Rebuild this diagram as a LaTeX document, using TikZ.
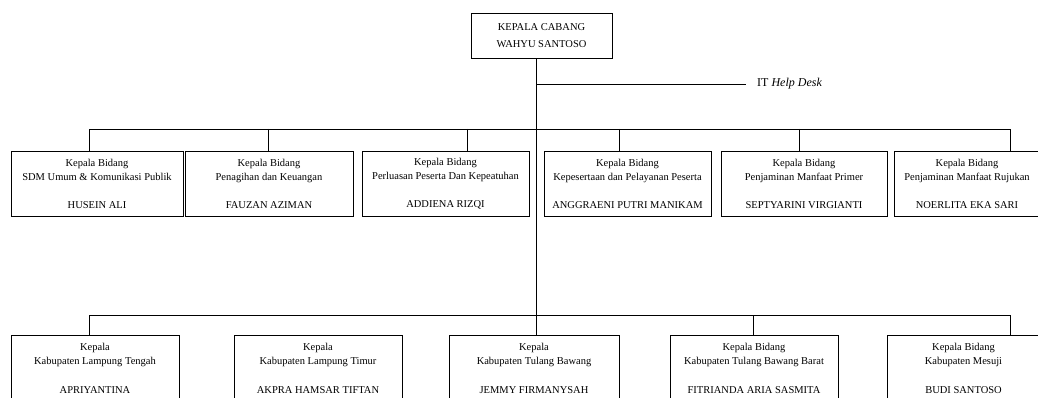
\documentclass[tikz,border=0pt]{standalone}
\usepackage{fontspec}
\setmainfont{Liberation Serif}
\begin{document}
\begin{tikzpicture}[x=1pt,y=-1pt,
  orgbox/.style={draw=black, line width=0.9pt, align=center, inner sep=0pt,
    font=\fontsize{10.5}{14}\selectfont},
  toprow/.style={orgbox, minimum height=65pt},
  botrow/.style={orgbox, minimum height=66pt},
  conn/.style={draw=black, line width=0.9pt}]
\useasboundingbox (0,0) rectangle (1038,398);
\clip (0,0) rectangle (1038,398);

% head
\node[orgbox, minimum width=141pt, minimum height=45pt,
  font=\fontsize{10.5}{17}\selectfont] (head) at (541.5,35.5)
  {KEPALA CABANG\\WAHYU SANTOSO};

% top row
\node[toprow, minimum width=172pt] (t1) at (97,183.5)
  {Kepala Bidang\\SDM Umum \& Komunikasi Publik\\[14pt]HUSEIN ALI};
\node[toprow, minimum width=168pt] (t2) at (269,183.5)
  {Kepala Bidang\\Penagihan dan Keuangan\\[14pt]FAUZAN AZIMAN};
\node[toprow, minimum width=167pt] (t3) at (445.5,183.5)
  {Kepala Bidang\\Perluasan Peserta Dan Kepeatuhan\\[14pt]ADDIENA RIZQI};
\node[toprow, minimum width=167pt] (t4) at (627.5,183.5)
  {Kepala Bidang\\Kepesertaan dan Pelayanan Peserta\\[14pt]ANGGRAENI PUTRI MANIKAM};
\node[toprow, minimum width=166pt] (t5) at (804,183.5)
  {Kepala Bidang\\Penjaminan Manfaat Primer\\[14pt]SEPTYARINI VIRGIANTI};
\node[toprow, minimum width=146pt] (t6) at (967,183.5)
  {Kepala Bidang\\Penjaminan Manfaat Rujukan\\[14pt]NOERLITA EKA SARI};

% bottom row
\node[botrow, minimum width=168pt] (b1) at (95,368)
  {Kepala\\Kabupaten Lampung Tengah\\[15pt]APRIYANTINA};
\node[botrow, minimum width=168pt] (b2) at (318,368)
  {Kepala\\Kabupaten Lampung Timur\\[15pt]AKPRA HAMSAR TIFTAN};
\node[botrow, minimum width=170pt] (b3) at (534,368)
  {Kepala\\Kabupaten Tulang Bawang\\[15pt]JEMMY FIRMANYSAH};
\node[botrow, minimum width=168pt] (b4) at (754,368)
  {Kepala Bidang\\Kabupaten Tulang Bawang Barat\\[15pt]FITRIANDA ARIA SASMITA};
\node[botrow, minimum width=153pt] (b5) at (963.5,368)
  {Kepala Bidang\\Kabupaten Mesuji\\[15pt]BUDI SANTOSO};

% help desk
\coordinate (hdl) at (746,84);
\node[anchor=base west, inner sep=0pt, font=\fontsize{12}{14}\selectfont]
  (hd) at (757,87) {IT \textit{Help Desk}};

% connector coordinates
\coordinate (sp) at (536.5,0);
\coordinate (dA1) at (89,129);
\coordinate (dA2) at (268,129);
\coordinate (dA3) at (467,129);
\coordinate (dA4) at (619,129);
\coordinate (dA5) at (799,129);
\coordinate (dA6) at (1010,129);
\coordinate (dB1) at (89,315);
\coordinate (dB4) at (753,315);
\coordinate (dB5) at (1010,315);

% spine and help desk line
\draw[conn] (sp |- head.south) -- (sp |- b3.north);
\draw[conn] (sp |- hdl) -- (hdl);

% top bus
\draw[conn] (dA1 |- t1.north) -- (dA1) -- (dA6) -- (dA6 |- t6.north);
\draw[conn] (dA2) -- (dA2 |- t2.north);
\draw[conn] (dA3) -- (dA3 |- t3.north);
\draw[conn] (dA4) -- (dA4 |- t4.north);
\draw[conn] (dA5) -- (dA5 |- t5.north);

% bottom bus
\draw[conn] (dB1 |- b1.north) -- (dB1) -- (dB5) -- (dB5 |- b5.north);
\draw[conn] (dB4) -- (dB4 |- b4.north);
\end{tikzpicture}
\end{document}
